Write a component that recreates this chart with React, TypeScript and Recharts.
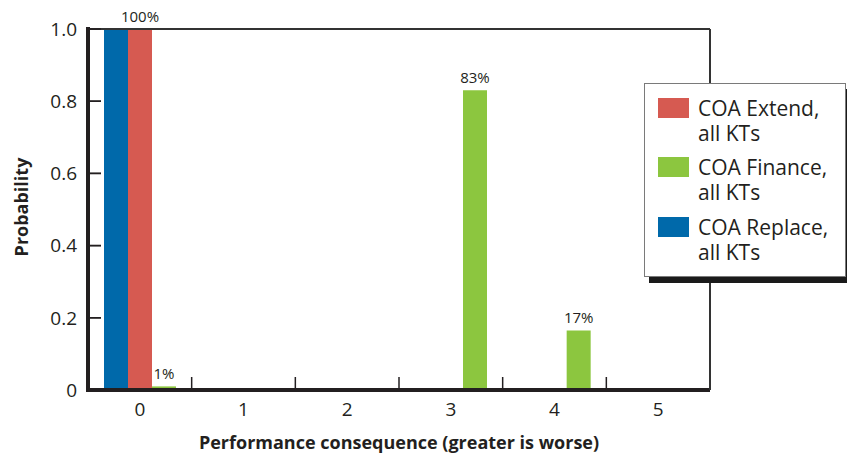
import React from 'react';
import { BarChart, Bar, XAxis, YAxis, LabelList, Legend } from 'recharts';

const categories = ['0', '1', '2', '3', '4', '5'];
const replaceValues = [1, 0, 0, 0, 0, 0];
const extendValues = [1, 0, 0, 0, 0, 0];
const financeValues = [0.01, 0.003, 0, 0.83, 0.165, 0];
const extendLabels = ['100%', '', '', '', '', ''];
const financeLabels = ['1%', '', '', '83%', '17%', ''];
const yTicks = [0, 0.2, 0.4, 0.6, 0.8, 1.0];

const seriesNames = {
  extend: 'COA Extend, all KTs',
  finance: 'COA Finance, all KTs',
  replace: 'COA Replace, all KTs',
};

const BLUE = '#0069aa';
const RED = '#d65a51';
const GREEN = '#8cc63f';
const TEXT = '#231f20';
const FONT = '"Open Sans", "Noto Sans", sans-serif';

const W = 847;
const H = 456;
const M = { top: 28, right: 136, bottom: 0, left: 0 };
const YW = 88;
const XH = 66;
const TOPH = 1;
const PLOT_W = W - M.left - M.right - YW - 1;
const PLOT_H = H - M.top - M.bottom - XH - TOPH;
const PLOT_TOP = M.top + TOPH;
const PLOT_LEFT = M.left + YW;

const data = categories.map((c, i) => ({
  cat: c,
  replace: replaceValues[i],
  extend: extendValues[i],
  finance: financeValues[i],
  extLabel: extendLabels[i],
  finLabel: financeLabels[i],
}));

const BarLabel = (props: any) => {
  const { x, y, width, value } = props;
  if (!value) return null;
  return (
    <text
      x={Number(x) + Number(width) / 2}
      y={Number(y) - 7}
      textAnchor="middle"
      fontSize={15}
      fontFamily={FONT}
      fill={TEXT}
    >
      {value}
    </text>
  );
};

const YTick = (props: any) => {
  const x = Number(props.x);
  const y = Number(props.y);
  const v = Number(props.payload.value);
  const label = v === 0 ? '0' : v.toFixed(1);
  return (
    <text
      x={x}
      y={y}
      dy="0.36em"
      textAnchor="end"
      fontSize={19}
      fontFamily={FONT}
      fill={TEXT}
      stroke="none"
    >
      {label}
    </text>
  );
};

const XTick = (props: any) => {
  const x = Number(props.x);
  const y = Number(props.y);
  const index = Number(props.index);
  const step = PLOT_W / categories.length;
  const bx = x + step / 2;
  return (
    <g>
      {index < categories.length - 1 && (
        <path d={`M${bx},${y - 13}V${y}`} stroke={TEXT} strokeWidth={1.5} fill="none" />
      )}
      <text
        x={x}
        y={y + 26}
        textAnchor="middle"
        fontSize={19}
        fontFamily={FONT}
        fill={TEXT}
      >
        {props.payload.value}
      </text>
    </g>
  );
};

const legendEntries = [
  { name: seriesNames.extend, color: RED },
  { name: seriesNames.finance, color: GREEN },
  { name: seriesNames.replace, color: BLUE },
];

const LegendBox = () => (
  <div
    style={{
      position: 'relative',
      width: 202,
      height: 194,
      boxSizing: 'border-box',
      border: '1.5px solid #7a7a7a',
      background: '#fff',
      boxShadow: '5px 6px 0 #1a1a1a',
      fontFamily: FONT,
      color: TEXT,
    }}
  >
    {legendEntries.map((e, i) => {
      const parts = e.name.split(', ');
      return (
        <div key={e.name}>
          <div
            style={{
              position: 'absolute',
              left: 13,
              top: 14 + i * 59.3,
              width: 31,
              height: 20,
              background: e.color,
            }}
          />
          <div
            style={{
              position: 'absolute',
              left: 53,
              top: 12 + i * 59.3,
              fontSize: 21,
              lineHeight: '25px',
              whiteSpace: 'nowrap',
            }}
          >
            <div>{parts[0] + ','}</div>
            <div>{parts[1]}</div>
          </div>
        </div>
      );
    })}
  </div>
);

const tickYs = yTicks.filter((v) => v > 0 && v < 1).map((v) => PLOT_TOP + (1 - v) * PLOT_H);

const FrameOverlay = () => (
  <svg
    width={W}
    height={H}
    style={{ position: 'absolute', left: 0, top: 0, zIndex: 10, pointerEvents: 'none' }}
  >
    <rect x={PLOT_LEFT - 2} y={PLOT_TOP - 2} width={4} height={PLOT_H + 4} fill={TEXT} />
    {tickYs.map((y) => (
      <rect key={y} x={PLOT_LEFT} y={y - 0.75} width={13} height={1.5} fill={TEXT} />
    ))}
  </svg>
);

export default function App() {
  return (
    <div style={{ position: 'absolute', left: 0, top: 0, width: W, height: H, background: '#fff' }}>
      <BarChart width={W} height={H} data={data} margin={M} barGap={0} barSize={24}>
        <XAxis
          dataKey="cat"
          height={XH}
          tickSize={0}
          tickMargin={0}
          tickLine={false}
          axisLine={{ stroke: TEXT, strokeWidth: 4 }}
          tick={<XTick />}
          interval={0}
        />
        <XAxis
          xAxisId="top"
          dataKey="cat"
          orientation="top"
          height={TOPH}
          tick={false}
          tickLine={false}
          axisLine={{ stroke: '#333', strokeWidth: 2 }}
        />
        <YAxis
          yAxisId="right"
          orientation="right"
          width={1}
          domain={[0, 1]}
          tick={false}
          tickLine={false}
          axisLine={{ stroke: '#333', strokeWidth: 2 }}
        />
        <YAxis
          width={YW}
          domain={[0, 1]}
          ticks={yTicks}
          tickSize={-13}
          tickMargin={24}
          interval={0}
          stroke={TEXT}
          axisLine={{ stroke: TEXT, strokeWidth: 4 }}
          tickLine={{ stroke: TEXT, strokeWidth: 1.5 }}
          tick={<YTick />}
        />
        <Legend
          layout="horizontal"
          align="center"
          verticalAlign="middle"
          wrapperStyle={{ left: 644, top: 83, width: 202, height: 194 }}
          content={() => <LegendBox />}
        />
        <Bar dataKey="replace" name={seriesNames.replace} fill={BLUE} isAnimationActive={false} />
        <Bar dataKey="extend" name={seriesNames.extend} fill={RED} isAnimationActive={false}>
          <LabelList dataKey="extLabel" content={<BarLabel />} />
        </Bar>
        <Bar dataKey="finance" name={seriesNames.finance} fill={GREEN} isAnimationActive={false}>
          <LabelList dataKey="finLabel" content={<BarLabel />} />
        </Bar>
        <line
          x1={PLOT_LEFT}
          x2={PLOT_LEFT}
          y1={PLOT_TOP - 2}
          y2={PLOT_TOP + PLOT_H + 2}
          stroke={TEXT}
          strokeWidth={4}
        />
        <text
          x={399}
          y={449}
          textAnchor="middle"
          fontSize={18}
          fontWeight="bold"
          fontFamily={FONT}
          fill={TEXT}
        >
          Performance consequence (greater is worse)
        </text>
        <text
          x={0}
          y={0}
          transform="translate(28, 207) rotate(-90)"
          textAnchor="middle"
          fontSize={18}
          fontWeight="bold"
          fontFamily={FONT}
          fill={TEXT}
        >
          Probability
        </text>
      </BarChart>
      <FrameOverlay />
    </div>
  );
}
